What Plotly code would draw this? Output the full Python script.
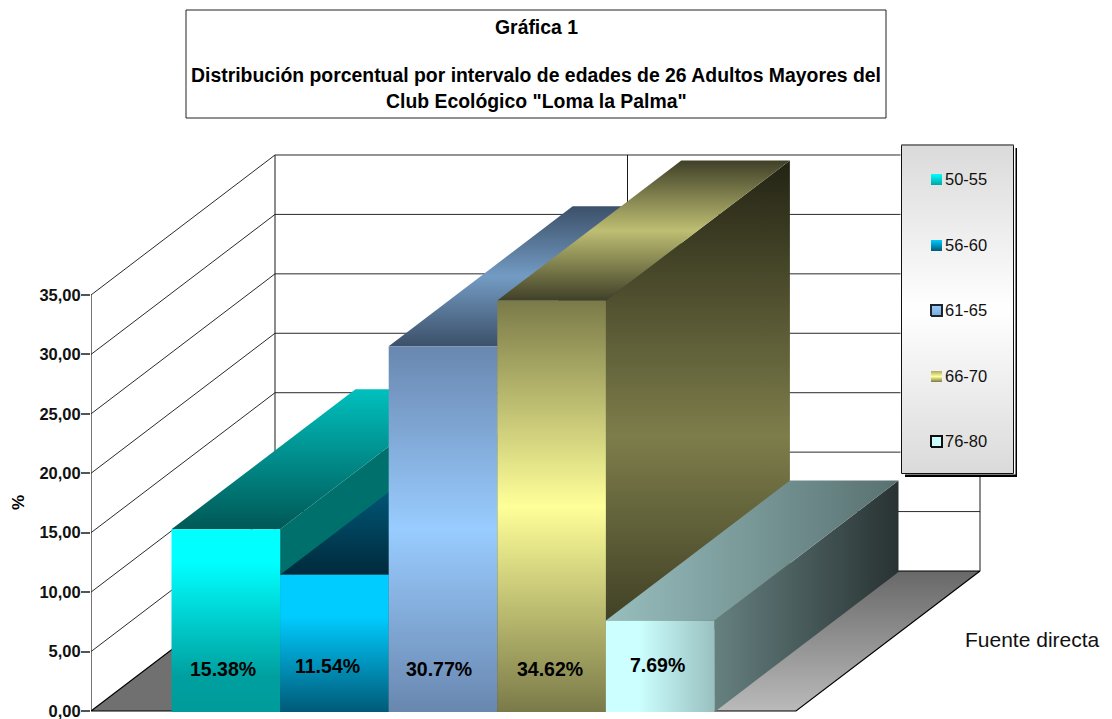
import plotly.graph_objects as go

# ---- data ----
categories = ["50-55", "56-60", "61-65", "66-70", "76-80"]
percent = [15.38, 11.54, 30.77, 34.62, 7.69]
labels = ["15.38%", "11.54%", "30.77%", "34.62%", "7.69%"]
label_shift_x = [-0.004, -0.010, -0.005, -0.002, -0.004]
label_y = [3.55, 3.8, 3.5, 3.5, 3.9]
y_ticks = [0, 5, 10, 15, 20, 25, 30, 35]
y_tick_text = ["0,00", "5,00", "10,00", "15,00", "20,00", "25,00", "30,00", "35,00"]
source_text = "Fuente directa"

# ---- geometry of the oblique box, in axis units ----
W, H = 1112, 719
PX_X = 705.0      # pixels per unit of x
PX_Y = 11.886     # pixels per unit of y
LEFT = 91
ZERO = 711
DX = 184 / PX_X   # depth shift along x
DY = 140 / PX_Y   # depth shift along y
BAR_W = 108.6 / PX_X
GAP = 80.5 / PX_X
BAR_BASE = -1 / PX_Y   # the boxes start one pixel under the axis


def X(px):
    return (px - LEFT) / PX_X


def Y(px):
    return (ZERO - px) / PX_Y


fig = go.Figure()


def line(xs, ys, color="#2a2a2a", width=1):
    fig.add_trace(go.Scatter(x=xs, y=ys, mode="lines", line=dict(color=color, width=width),
                             hoverinfo="skip", showlegend=False, cliponaxis=False))


def face(xs, ys, stops, kind="vertical", start=None, stop=None, outline=None, outline_width=1):
    scale = [[p, f"rgb({c[0]},{c[1]},{c[2]})"] for p, c in stops]
    fig.add_trace(go.Scatter(
        x=xs + xs[:1], y=ys + ys[:1], mode="lines", fill="toself",
        line=dict(width=outline_width if outline else 0, color=outline or "rgba(0,0,0,0)"),
        fillgradient=dict(type=kind, colorscale=scale, start=start, stop=stop),
        hoverinfo="skip", showlegend=False, cliponaxis=False))


# ---- walls ----
ymax = y_ticks[-1]
for t in y_ticks[1:]:
    line([0, DX, DX + 1], [t, t + DY, t + DY])
line([0, 0], [0, ymax], "#1a1a1a", 1.2)
line([DX, DX], [DY, ymax + DY], "#1a1a1a", 1)
line([DX + 0.5, DX + 0.5], [DY, ymax + DY], "#1a1a1a", 1)
line([DX + 1, DX + 1], [DY, ymax + DY], "#1a1a1a", 1)

# ---- floor ----
face([0, DX, DX + 0.5, 0.5], [0, DY, DY, 0], [(0, (112, 112, 112)), (1, (112, 112, 112))])
face([0.5, DX + 0.5, DX + 1, 1], [0, DY, DY, 0], [(0, (186, 186, 186)), (1, (104, 104, 104))],
     start=0, stop=DY)
line([0, DX, DX + 1, 1, 0], [0, DY, DY, 0, 0], "#000000", 1.2)

# ---- colours of each box: front, top, side ----
front_stops = [
    [(0, (0, 155, 155)), (0.2, (0, 160, 160)), (0.82, (0, 255, 255)), (1, (0, 255, 255))],
    [(0, (0, 90, 120)), (0.7, (0, 204, 255)), (1, (0, 204, 255))],
    [(0, (105, 135, 175)), (0.5, (153, 204, 255)), (1, (105, 135, 175))],
    [(0, (122, 122, 73)), (0.5, (255, 255, 153)), (1, (122, 122, 73))],
    None,
]
top_stops = [
    [(0, (0, 88, 86)), (1, (0, 192, 190))],
    [(0, (0, 42, 60)), (1, (0, 115, 155))],
    [(0, (60, 80, 105)), (0.5, (115, 155, 195)), (1, (60, 80, 105))],
    [(0, (64, 64, 40)), (0.5, (190, 190, 115)), (1, (64, 64, 40))],
    None,
]
side_stops = [
    [(0, (0, 112, 108)), (1, (0, 112, 108))],
    [(0, (0, 60, 80)), (1, (0, 60, 80))],
    [(0, (40, 50, 70)), (1, (40, 50, 70))],
    [(0, (35, 35, 20)), (0.5, (125, 125, 75)), (1, (35, 35, 20))],
    None,
]

# ---- boxes ----
for i, value in enumerate(percent):
    v = value + BAR_BASE
    x0 = GAP + i * BAR_W
    x1 = x0 + BAR_W
    b = BAR_BASE
    sx = [x1, x1 + DX, x1 + DX, x1]
    sy = [b, b + DY, v + DY, v]
    tx = [x0, x0 + DX, x1 + DX, x1]
    ty = [v, v + DY, v + DY, v]
    fx = [x0, x0, x1, x1]
    fy = [b, v, v, b]
    if i < 4:
        face(sx, sy, side_stops[i], start=b, stop=v + DY)
        face(tx, ty, top_stops[i], start=v, stop=v + DY)
        face(fx, fy, front_stops[i], start=b, stop=v)
    else:
        face(sx, sy, [(0, (102, 128, 128)), (1, (40, 50, 50))], kind="horizontal", start=x1, stop=x1 + DX)
        face(tx, ty, [(0, (152, 190, 190)), (1, (88, 112, 112))], kind="horizontal", start=x0, stop=x1 + DX)
        face(fx, fy, [(0, (204, 255, 255)), (0.3, (204, 255, 255)), (1, (153, 192, 192))], kind="horizontal", start=x0, stop=x1)

annotations = []
for i, txt in enumerate(labels):
    annotations.append(dict(x=GAP + (i + 0.5) * BAR_W + label_shift_x[i], y=label_y[i], text=f"<b>{txt}</b>",
                            showarrow=False, xanchor="center", yanchor="middle",
                            font=dict(family="Liberation Sans", size=19.5, color="#000000")))

# ---- legend panel ----
L0, L1, T0, T1 = 901.5, 1013.5, 145, 473.5
face([X(905), X(1017), X(1017), X(905)], [Y(477), Y(477), Y(148), Y(148)], [(0, (0, 0, 0)), (1, (0, 0, 0))])
face([X(L0 - 1), X(L1 + 2), X(L1 + 2), X(L0 - 1)], [Y(T1 + 1), Y(T1 + 1), Y(T0 - 1), Y(T0 - 1)],
     [(0, (255, 255, 255)), (1, (255, 255, 255))])
face([X(L0), X(L1), X(L1), X(L0)], [Y(T1), Y(T1), Y(T0), Y(T0)],
     [(0, (218, 218, 218)), (0.5, (255, 255, 255)), (1, (218, 218, 218))], start=Y(T1), stop=Y(T0), outline="#111111")
line([X(L0), X(L1)], [Y(T0), Y(T0)], "#808080", 1.5)

legend_y = [179, 245, 310, 376, 441]
swatches = [
    ([(0, (0, 165, 165)), (1, (0, 255, 255))], None),
    ([(0, (0, 90, 120)), (1, (0, 204, 255))], None),
    ([(0, (125, 170, 215)), (1, (153, 204, 255))], "#1c2430"),
    ([(0, (122, 122, 73)), (0.5, (255, 255, 153)), (1, (170, 170, 100))], None),
    ([(0, (204, 255, 255)), (1, (204, 255, 255))], "#101010"),
]
for i, name in enumerate(categories):
    py = legend_y[i]
    stops, edge = swatches[i]
    face([X(931), X(942), X(942), X(931)], [Y(py + 6), Y(py + 6), Y(py - 5), Y(py - 5)],
         stops, start=Y(py + 6), stop=Y(py - 5), outline=edge, outline_width=2)
    annotations.append(dict(x=X(943), y=Y(py - 0.5), text=name, showarrow=False, xanchor="left", yanchor="middle",
                            font=dict(family="Liberation Sans", size=16.5, color="#111111")))


# ---- title box and free texts ----
def PXX(px):
    return (px - LEFT) / (W - LEFT)


def PXY(px):
    return 1 - px / H


shapes = [dict(type="rect", xref="paper", yref="paper", x0=PXX(186), x1=PXX(886), y0=PXY(118), y1=PXY(10),
               line=dict(color="#222222", width=1), fillcolor="white", layer="above")]
for py, txt in [(27, "Gráfica 1"),
                (75, "Distribución porcentual por intervalo de edades de 26 Adultos Mayores del"),
                (101, 'Club Ecológico "Loma la Palma"')]:
    annotations.append(dict(xref="paper", yref="paper", x=PXX(536), y=PXY(py), text=f"<b>{txt}</b>", showarrow=False,
                            xanchor="center", yanchor="middle",
                            font=dict(family="Liberation Sans", size=19.4, color="#000000")))
annotations.append(dict(xref="paper", yref="paper", x=PXX(18), y=PXY(503), text="<b>%</b>", textangle=-90,
                        showarrow=False, xanchor="center", yanchor="middle",
                        font=dict(family="Liberation Sans", size=17, color="#000000")))
annotations.append(dict(xref="paper", yref="paper", x=PXX(963), y=PXY(639), text=source_text, showarrow=False,
                        xanchor="left", yanchor="middle",
                        font=dict(family="Liberation Sans", size=21, color="#111111")))

fig.update_layout(
    width=W, height=H, autosize=False, paper_bgcolor="white", plot_bgcolor="white",
    margin=dict(l=LEFT, r=0, t=0, b=0), showlegend=False, shapes=shapes, annotations=annotations,
    xaxis=dict(range=[0, (W - LEFT) / PX_X], visible=False, fixedrange=True),
    yaxis=dict(range=[(ZERO - H) / PX_Y, ZERO / PX_Y], tickvals=y_ticks, ticktext=y_tick_text, ticks="outside",
               ticklen=9, tickcolor="#555555", tickwidth=1.5, showgrid=False, zeroline=False, showline=False,
               ticklabeloverflow="allow", ticklabelstandoff=-3,
               tickfont=dict(family="Liberation Sans", size=16.5, color="#111111", weight="bold"), fixedrange=True),
)
fig.write_html("out.html", config={"displayModeBar": False},
               post_script="document.body.style.margin='0';document.body.style.overflow='hidden';")
